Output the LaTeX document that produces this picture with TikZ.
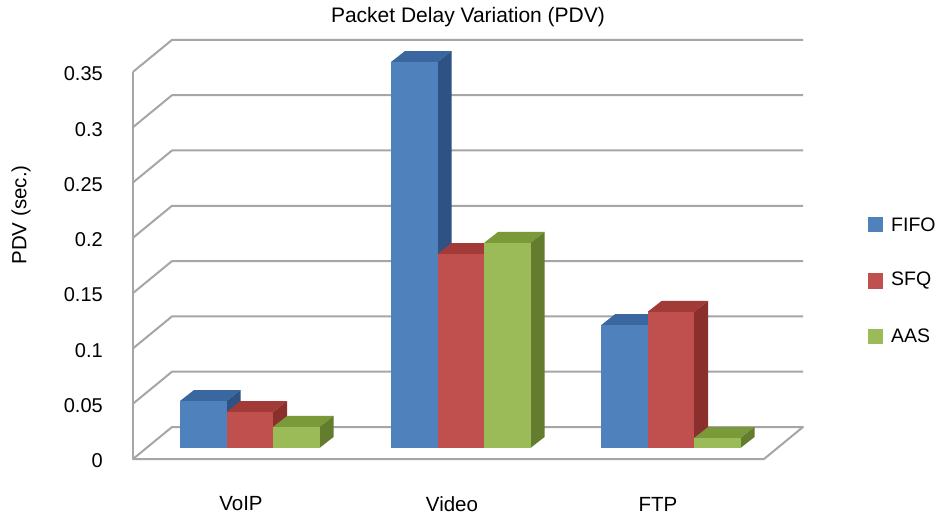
\documentclass[tikz,border=0pt]{standalone}
\usepackage{fontspec}
\setmainfont{Liberation Sans}
\definecolor{gridc}{HTML}{A6A6A6}
\definecolor{bluef}{HTML}{4F81BD}
\definecolor{bluet}{HTML}{3A67A0}
\definecolor{blues}{HTML}{2E5284}
\definecolor{redf}{HTML}{C0504D}
\definecolor{redt}{HTML}{A23B38}
\definecolor{reds}{HTML}{8A2F2C}
\definecolor{greenf}{HTML}{9BBB59}
\definecolor{greent}{HTML}{7A9A3A}
\definecolor{greens}{HTML}{637C2E}
\newcommand{\cbar}[5]{%
  \pgfmathsetmacro{\bt}{448-1106*#2}%
  \fill[#4] (#1,\bt) -- ++(46.5,0) -- ++(14,-11) -- ++(-46.5,0) -- cycle;
  \fill[#5] ({#1+46.5},448) -- ({#1+46.5},\bt) -- ++(14,-11) -- ++(0,{448-\bt}) -- cycle;
  \fill[#3] (#1,448) rectangle ({#1+46.5},\bt);
}
\begin{document}
\begin{tikzpicture}[x=1pt,y=-1pt,
  gridline/.style={draw=gridc,line width=2pt,line join=round},
  ticklab/.style={anchor=east,inner sep=0pt,font=\fontsize{20}{22}\selectfont},
  catlab/.style={inner sep=0pt,font=\fontsize{20.5}{22}\selectfont},
  leglab/.style={anchor=west,inner sep=0pt,font=\fontsize{19.5}{22}\selectfont},
  legsq/.style={minimum size=15pt,inner sep=0pt}]
\useasboundingbox (0,0) rectangle (941,518);
\fill[white] (0,0) rectangle (941,518);
% back wall grid lines
\foreach \v in {0.05,0.1,...,0.36}{
  \draw[gridline] (133,{459-1106*\v}) -- (172,{427-1106*\v}) -- (803,{427-1106*\v});
}
% floor
\draw[gridline] (133,459) -- (172,427) -- (803,427) -- (764,459) -- cycle;
% vertical axis
\draw[gridline] (133,{459-1106*0.35}) -- (133,459);
% tick labels
\foreach \v/\l [count=\i] in {0/0,0.05/0.05,0.1/0.1,0.15/0.15,0.2/0.2,0.25/0.25,0.3/0.3,0.35/0.35}{
  \node[ticklab] (t\i) at (103,{461-1106*\v}) {\l};
}
% bars
\cbar{180}{0.0425}{bluef}{bluet}{blues}
\cbar{226.5}{0.0325}{redf}{redt}{reds}
\cbar{273}{0.019}{greenf}{greent}{greens}
\cbar{391}{0.349}{bluef}{bluet}{blues}
\cbar{437.5}{0.1754}{redf}{redt}{reds}
\cbar{484}{0.1854}{greenf}{greent}{greens}
\cbar{601}{0.111}{bluef}{bluet}{blues}
\cbar{647.5}{0.123}{redf}{redt}{reds}
\cbar{694}{0.009}{greenf}{greent}{greens}
% labels
\node[font=\fontsize{21}{24}\selectfont,inner sep=0pt] (title) at (468,17) {Packet Delay Variation (PDV)};
\node[rotate=90,inner sep=0pt,font=\fontsize{20.5}{22}\selectfont] (ylab) at (21,215) {PDV (sec.)};
\node[catlab] (c1) at (241,504) {VoIP};
\node[catlab] (c2) at (452,504) {Video};
\node[catlab] (c3) at (658,504) {FTP};
% legend
\node[legsq,fill=bluef] (s1) at (875.5,225) {};
\node[legsq,fill=redf] (s2) at (875.5,281) {};
\node[legsq,fill=greenf] (s3) at (875.5,336) {};
\node[leglab] (l1) at (891,225) {FIFO};
\node[leglab] (l2) at (891,281) {SFQ};
\node[leglab] (l3) at (891,336) {AAS};
\end{tikzpicture}
\end{document}
